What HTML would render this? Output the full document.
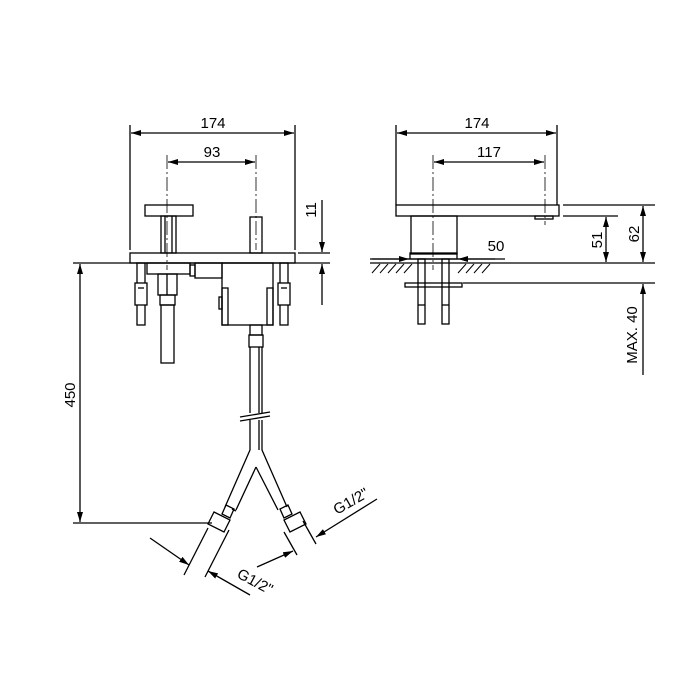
<!DOCTYPE html>
<html><head><style>body{margin:0;background:#fff}svg{display:block}text{font-family:"Liberation Sans",sans-serif;font-size:15px;fill:#000}</style></head><body>
<svg width="700" height="700" viewBox="0 0 700 700" xmlns="http://www.w3.org/2000/svg">
<defs><marker id="a" viewBox="0 0 10 6" refX="10" refY="3" markerWidth="10" markerHeight="6" orient="auto-start-reverse" markerUnits="userSpaceOnUse"><path d="M0,0L10,3L0,6z" fill="#000"/></marker></defs>
<g stroke="#000" stroke-width="1.3" fill="none">
<!-- LEFT VIEW -->
<line x1="130" y1="125" x2="130" y2="250"/><line x1="295" y1="125" x2="295" y2="250"/>
<line x1="131" y1="133" x2="294" y2="133" marker-start="url(#a)" marker-end="url(#a)"/>
<line x1="167" y1="155" x2="167" y2="270" stroke-dasharray="14,3,2,3" stroke-width="0.8"/>
<line x1="256" y1="155" x2="256" y2="250" stroke-dasharray="14,3,2,3" stroke-width="0.8"/>
<line x1="168" y1="162" x2="255" y2="162" marker-start="url(#a)" marker-end="url(#a)"/>
<rect x="145" y="205" width="48" height="11"/>
<rect x="161" y="216" width="15" height="37"/><line x1="165" y1="216" x2="165" y2="253"/><line x1="172" y1="216" x2="172" y2="253"/>
<rect x="250" y="217" width="12" height="36"/>
<rect x="130" y="253" width="165" height="10"/>
<line x1="73" y1="263" x2="330" y2="263"/>
<line x1="298" y1="253" x2="330" y2="253"/>
<line x1="322" y1="200" x2="322" y2="252" marker-end="url(#a)"/>
<line x1="322" y1="264" x2="322" y2="305" marker-start="url(#a)"/>
<line x1="80" y1="264" x2="80" y2="522" marker-start="url(#a)" marker-end="url(#a)"/>
<line x1="73" y1="523" x2="212" y2="523"/>
<!-- under deck -->
<rect x="137" y="263" width="8" height="62"/><rect x="135" y="283" width="12" height="22" fill="#fff"/><line x1="138" y1="288" x2="144" y2="288"/>
<rect x="280" y="263" width="8" height="62"/><rect x="278" y="283" width="12" height="22" fill="#fff"/><line x1="281" y1="288" x2="287" y2="288"/>
<rect x="147" y="263" width="43" height="11"/>
<rect x="158" y="274" width="19" height="21"/><line x1="167" y1="274" x2="167" y2="295"/>
<rect x="160" y="295" width="15" height="10"/>
<rect x="161" y="305" width="13" height="58"/>
<rect x="190" y="265" width="5" height="11"/>
<rect x="195" y="263" width="27" height="15"/>
<rect x="222" y="263" width="51" height="62"/>
<rect x="222" y="288" width="6" height="37"/><rect x="267" y="288" width="6" height="37"/><rect x="219" y="297" width="3" height="12"/>
<rect x="250" y="325" width="12" height="10"/><rect x="249" y="335" width="14" height="12"/>
<line x1="250" y1="347" x2="250" y2="413"/><line x1="262" y1="347" x2="262" y2="413"/><line x1="259" y1="347" x2="259" y2="413"/>
<line x1="240" y1="417" x2="270" y2="412"/><line x1="240" y1="421" x2="270" y2="416"/>
<path d="M250,420 V450 L225,507 M262,420 V450 L287,507 M259,420 V450 M256,467 L236,510 M256,467 L278,510"/>
<path d="M226,505 l8,4 -4,9 -8,-4z M232,509 l4,2" />
<path d="M214,512 l16,8 -6,12 -16,-8z"/>
<path d="M288,505 l-8,4 4,9 8,-4z"/>
<path d="M300,512 l-16,8 6,12 16,-8z"/>
<!-- G1/2 dims -->
<line x1="208" y1="528" x2="184" y2="575"/><line x1="229" y1="530" x2="205" y2="577"/>
<line x1="150" y1="538" x2="189" y2="565" marker-end="url(#a)"/>
<line x1="250" y1="595" x2="208" y2="571" marker-end="url(#a)"/>
<line x1="284" y1="532" x2="297" y2="555"/><line x1="303" y1="521" x2="316" y2="544"/>
<line x1="257" y1="567" x2="293" y2="551" marker-end="url(#a)"/>
<line x1="377" y1="499" x2="316" y2="537" marker-end="url(#a)"/>
<!-- RIGHT VIEW -->
<line x1="396" y1="125" x2="396" y2="205"/><line x1="557" y1="125" x2="557" y2="205"/>
<line x1="397" y1="133" x2="556" y2="133" marker-start="url(#a)" marker-end="url(#a)"/>
<line x1="433" y1="155" x2="433" y2="270" stroke-dasharray="14,3,2,3" stroke-width="0.8"/>
<line x1="545" y1="155" x2="545" y2="225" stroke-dasharray="14,3,2,3" stroke-width="0.8"/>
<line x1="434" y1="162" x2="544" y2="162" marker-start="url(#a)" marker-end="url(#a)"/>
<rect x="396" y="205" width="163" height="11"/>
<rect x="535" y="216" width="18" height="3"/>
<rect x="411" y="216" width="46" height="38"/>
<rect x="410" y="253" width="47" height="6"/>
<line x1="370" y1="259" x2="505" y2="259"/>
<line x1="372" y1="259" x2="409" y2="259" marker-end="url(#a)"/>
<line x1="495" y1="259" x2="458" y2="259" marker-end="url(#a)"/>
<line x1="370" y1="263" x2="655" y2="263"/>
<path d="M372,273l8,-9M380,273l8,-9M388,273l8,-9M396,273l8,-9M404,273l8,-9M458,273l8,-9M466,273l8,-9M474,273l8,-9M482,273l8,-9" stroke-width="1"/>
<line x1="563" y1="205" x2="655" y2="205"/><line x1="563" y1="216" x2="618" y2="216"/>
<line x1="606" y1="217" x2="606" y2="262" marker-start="url(#a)" marker-end="url(#a)"/>
<line x1="643" y1="206" x2="643" y2="262" marker-start="url(#a)" marker-end="url(#a)"/>
<line x1="463" y1="283" x2="655" y2="283"/>
<rect x="405" y="283" width="57" height="4"/>
<rect x="418" y="259" width="7" height="65"/><rect x="442" y="259" width="7" height="65"/>
<line x1="418" y1="305" x2="425" y2="305"/><line x1="442" y1="305" x2="449" y2="305"/>
<line x1="643" y1="284" x2="643" y2="375" marker-start="url(#a)"/>
</g>
<text x="213" y="128" text-anchor="middle">174</text>
<text x="212" y="157" text-anchor="middle">93</text>
<text x="477" y="128" text-anchor="middle">174</text>
<text x="489" y="157" text-anchor="middle">117</text>
<text x="496" y="251" text-anchor="middle">50</text>
<text transform="translate(316,210) rotate(-90)" text-anchor="middle">11</text>
<text transform="translate(85,395) rotate(-90)" text-anchor="middle" dx="0" dy="-10">450</text>
<text transform="translate(602,240) rotate(-90)" text-anchor="middle">51</text>
<text transform="translate(639,234) rotate(-90)" text-anchor="middle">62</text>
<text transform="translate(637,335) rotate(-90)" text-anchor="middle">MAX. 40</text>
<text transform="translate(236,577) rotate(28)">G1/2"</text>
<text transform="translate(337,515) rotate(-30)">G1/2"</text>
</svg>
</body></html>
